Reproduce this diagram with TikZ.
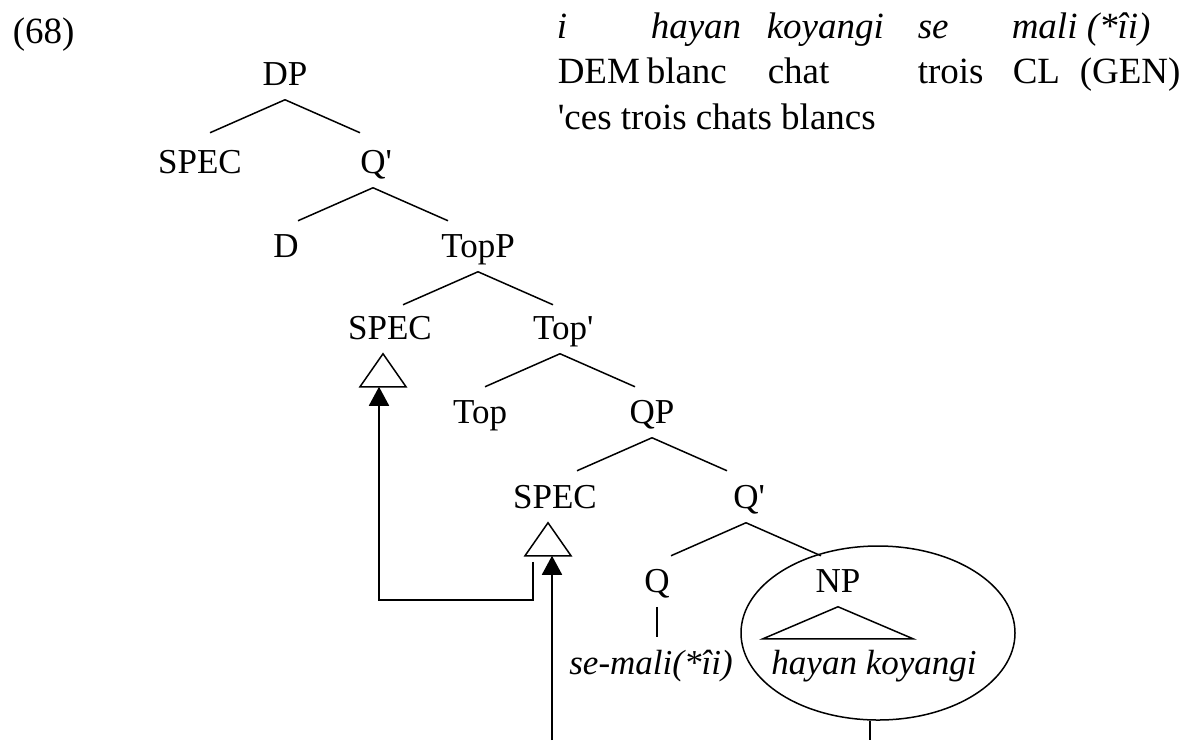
\documentclass[tikz,border=0pt]{standalone}
\usepackage{fontspec}
\setmainfont{Liberation Serif}
\usetikzlibrary{arrows.meta,shapes.geometric}

\tikzset{
  cat/.style={font=\fontsize{35}{42}\selectfont, inner sep=0pt, text height=36pt, text depth=14pt, anchor=base},
  gloss/.style={font=\fontsize{37}{44}\selectfont, inner sep=0pt, anchor=base west},
  mv/.style={line width=1.8pt, -{Triangle[length=19pt,width=20pt]}},
}

\begin{document}
\begin{tikzpicture}[x=1pt,y=-1pt,line width=1.5pt]
\useasboundingbox (0,0) rectangle (1198,740);

% two legs under a node
\def\branch#1{
    \draw (#1.south) -- ++(-75,33) coordinate (#1-l);
    \draw (#1.south) -- ++(75,33) coordinate (#1-r);
}
% triangle under a SPEC
\def\roof#1{
    \draw ([xshift=-7pt]#1.south) -- ++(-23,33) -- ++(46,0) -- cycle;
    \coordinate (#1-base) at ([xshift=-7pt,yshift=-33pt]#1.south);
}

    \node[gloss] (num) at (12,43) {(68)};

% Gloss
    \node[gloss] (w1) at (556,38) {\itshape i};
    \node[gloss] (w2) at (650,38) {\itshape hayan};
    \node[gloss] (w3) at (766,38) {\itshape koyangi};
    \node[gloss] (w4) at (917,38) {\itshape se};
    \node[gloss] (w5) at (1011,38) {\itshape mali (*îi)};

    \node[gloss] (g1) at (557,83) {DEM};
    \node[gloss] (g2) at (646,83) {blanc};
    \node[gloss] (g3) at (767,83) {chat};
    \node[gloss] (g4) at (917,83) {trois};
    \node[gloss] (g5) at (1012,83) {CL};
    \node[gloss] (g6) at (1079,83) {(GEN)};

    \node[gloss] (tr) at (557,129) {\textquotesingle ces trois chats blancs};

% Tree
    \node[cat] (dp) at (285,85) {DP};
    \node[cat] (specA) at (200,173) {SPEC};
    \node[cat] (qa) at (373,173) {Q\rlap{\textquotesingle}};
    \node[cat] (d) at (286,257) {D};
    \node[cat] (topp) at (478,257) {TopP};
    \node[cat] (specB) at (390,339) {SPEC};
    \node[cat] (topbar) at (560,339) {Top\rlap{\textquotesingle}};
    \node[cat] (top) at (480,423) {Top};
    \node[cat] (qp) at (652,423) {QP};
    \node[cat] (specC) at (555,508) {SPEC};
    \node[cat] (qb) at (746,508) {Q\rlap{\textquotesingle}};
    \node[cat] (q) at (657,592) {Q};
    \node[cat] (np) at (838,592) {NP};

    \node[cat] (semali) at (651,674) {\itshape se-mali(*îi)};
    \node[cat] (hk) at (874,674) {\itshape hayan koyangi};

    \branch{dp}
    \branch{qa}
    \branch{topp}
    \branch{topbar}
    \branch{qp}
    \branch{qb}

    \roof{specB}
    \roof{specC}

    \draw (q.south) -- (q.south |- semali.north);
    \draw (np.south) -- ++(-75,32) -- ++(150,0) -- cycle;

% NP ring
    \node[draw, ellipse, inner sep=0pt, minimum width=274pt, minimum height=174pt] (npring) at (878,633) {};
    \coordinate (bottom2) at (870,740);
    \draw (npring.south -| bottom2) -- (bottom2);

% Movement
    \coordinate (bottom1) at (552,740);
    \coordinate (hook) at ([xshift=-15pt,yshift=-6pt]specC-base);
    \draw[mv] (bottom1) -- (bottom1 |- specC-base);
    \draw[mv] (hook) -- ++(0,38) -| ([xshift=-4pt]specB-base);

\end{tikzpicture}
\end{document}
